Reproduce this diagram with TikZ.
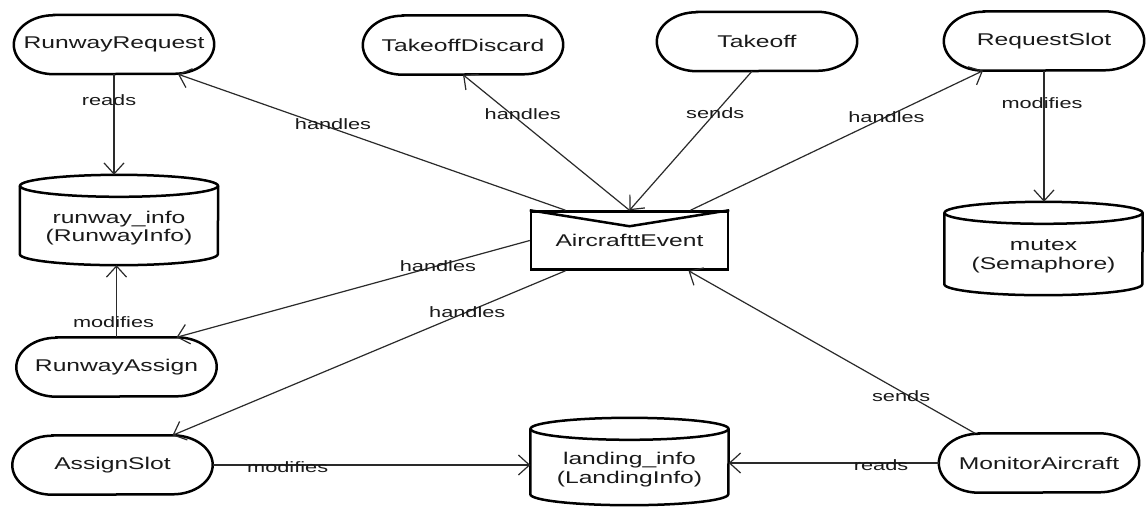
\documentclass[tikz,border=0pt]{standalone}
\usepackage{fontspec}
\setmainfont{Liberation Sans}[FakeStretch=1.45]
\usetikzlibrary{arrows.meta}
\definecolor{ink}{HTML}{1A1A1A}
\definecolor{wire}{HTML}{2A2A2A}
\tikzset{
  proc/.style={rectangle, minimum width=200pt, minimum height=59pt, inner sep=0pt,
    font=\fontsize{17}{19}\selectfont, text=ink},
  event/.style={draw=black, line width=2.5pt, rectangle,
    minimum width=197pt, minimum height=58pt, inner sep=0pt,
    font=\fontsize{17}{19}\selectfont, text=ink},
  store/.style={rectangle, minimum width=198pt, inner sep=0pt},
  storetext/.style={align=center, inner sep=0pt,
    font=\fontsize{17}{18.5}\selectfont, text=ink},
  shell/.style={draw=black, line width=2.5pt},
  flow/.style={draw=wire, line width=1.2pt, -{Straight Barb[length=11pt,width=20pt]}},
  tag/.style={font=\fontsize{15}{17}\selectfont, text=ink, inner sep=0pt},
}
% outline of a process: flat top and bottom, half-ellipse ends
\newcommand\procoutline[1]{%
  \draw[shell] ([xshift=40pt]#1.north west) -- ([xshift=-40pt]#1.north east)
    arc[start angle=90, end angle=-90, x radius=40pt, y radius=29.5pt]
    -- ([xshift=40pt]#1.south west)
    arc[start angle=270, end angle=90, x radius=40pt, y radius=29.5pt] -- cycle;
}
% outline of a data store: full top ellipse, sides and lower half of the base
\newcommand\storeoutline[1]{%
  \draw[shell] ([yshift=-11pt]#1.north west) -- ([yshift=11pt]#1.south west)
    arc[start angle=180, end angle=360, x radius=99pt, y radius=11pt]
    -- ([yshift=-11pt]#1.north east);
  \draw[shell] ([yshift=-11pt]#1.north) ellipse[x radius=99pt, y radius=11pt];
}
\begin{document}
\begin{tikzpicture}[x=1pt, y=-1pt]
  \fill[white] (0,0) rectangle (1147,507);
  \useasboundingbox (0,0) rectangle (1147,507);

  % processes
  \node[proc] (rr) at (114,44.5) {RunwayRequest};
  \node[proc] (td) at (463,45) {TakeoffDiscard};
  \node[proc] (to) at (757,41.5) {Takeoff};
  \node[proc] (rs) at (1044,41) {RequestSlot};
  \node[proc] (ra) at (116.5,367) {RunwayAssign};
  \node[proc] (as) at (112.5,465) {AssignSlot};
  \node[proc] (ma) at (1039,463) {MonitorAircraft};
  \procoutline{rr}
  \procoutline{td}
  \procoutline{to}
  \procoutline{rs}
  \procoutline{ra}
  \procoutline{as}
  \procoutline{ma}

  % event
  \node[event] (ae) at (629.5,240.5) {AircrafttEvent};
  \draw[shell] (ae.north west) -- ([yshift=-16pt]ae.north) -- (ae.north east);

  % data stores
  \node[store, minimum height=90pt] (ri) at (119,220) {};
  \node[storetext] (ritext) at ([yshift=-8pt]ri.center) {runway\_info\\(RunwayInfo)};
  \storeoutline{ri}
  \node[store, minimum height=93pt] (mx) at (1043.5,248.5) {};
  \node[storetext] (mxtext) at ([yshift=-8pt]mx.center) {mutex\\(Semaphore)};
  \storeoutline{mx}
  \node[store, minimum height=87pt] (li) at (629.5,461.5) {};
  \node[storetext] (litext) at ([yshift=-8pt]li.center) {landing\_info\\(LandingInfo)};
  \storeoutline{li}

  % connectors
  \draw[flow] (rr.south) -- node[tag, pos=0.26, xshift=-5pt] {reads} (rr.south |- ri.north);
  \draw[flow] (ra.north) -- node[tag, pos=0.21, xshift=-3pt] {modifies} (ra.north |- ri.south);
  \draw[flow] (rs.south) -- node[tag, pos=0.25, xshift=-2pt] {modifies} (rs.south |- mx.north);
  \draw[flow] ([xshift=-64pt]ae.north) -- node[tag, pos=0.6, yshift=4pt] {handles} ([xshift=64pt]rr.south);
  \draw[flow] (ae.north) -- node[tag, pos=0.707, xshift=11pt] {handles} (td.south);
  \draw[flow] ([xshift=-5pt]to.south) -- node[tag, pos=0.3] {sends} (ae.north);
  \draw[flow] ([xshift=61pt]ae.north) -- node[tag, pos=0.67] {handles} ([xshift=-61pt]rs.south);
  \draw[flow] (ae.west) -- node[tag, pos=0.26] {handles} ([xshift=60pt]ra.north);
  \draw[flow] ([xshift=-64pt]ae.south) -- node[tag, pos=0.25] {handles} ([xshift=60pt]as.north);
  \draw[flow] (as.east) -- node[tag, pos=0.236, yshift=-2pt] {modifies} (as.east -| li.west);
  \draw[flow] (ma.west) -- node[tag, pos=0.275, yshift=-2pt] {reads} (ma.west -| li.east);
  \draw[flow] ([xshift=-64pt]ma.north) -- node[tag, pos=0.23, xshift=-8pt] {sends} ([xshift=59pt]ae.south);
\end{tikzpicture}
\end{document}
